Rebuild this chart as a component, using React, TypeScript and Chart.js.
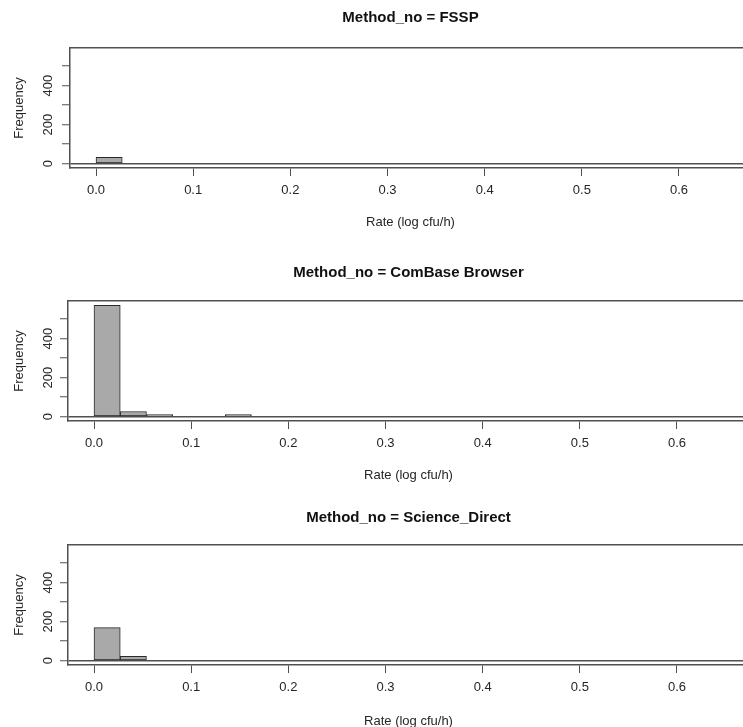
import React, { useEffect, useRef } from 'react';
import { Chart, registerables } from 'chart.js';

Chart.register(...registerables);

// ---- data ----
const PANEL_TITLES = ['Method_no = FSSP', 'Method_no = ComBase Browser', 'Method_no = Science_Direct'];
const BIN_BREAKS = [0, 0.027, 0.054, 0.081, 0.108, 0.135, 0.162];
const FSSP_COUNTS = [32, 0, 0, 0, 0, 0];
const COMBASE_COUNTS = [570, 26, 10, 0, 0, 10];
const SCIENCE_DIRECT_COUNTS = [169, 22, 0, 0, 0, 0];
const X_TICKS = [0, 0.1, 0.2, 0.3, 0.4, 0.5, 0.6];
const X_TICK_LABELS = ['0.0', '0.1', '0.2', '0.3', '0.4', '0.5', '0.6'];
const Y_TICKS = [0, 100, 200, 300, 400, 500];
const Y_TICK_LABELS = ['0', '', '200', '', '400', ''];
const X_TITLE = 'Rate (log cfu/h)';
const Y_TITLE = 'Frequency';

// ---- styling / layout ----
const FAMILY = '"Liberation Sans", Arial, Helvetica, sans-serif';
const TEXT = '#262626';
const TITLE_COLOR = '#111111';
const LINE = '#505050';
const BAR_FILL = '#A9A9A9';
const BAR_EDGE = '#2a2a2a';
const X_MIN = -0.02676;
const X_MAX = 0.6741;
const Y_MIN = -22.8;
const Y_MAX = 592.8;
const CANVAS_W = 751;
const CANVAS_H = 243;

const PANEL_LAYOUT = [
  { top: 0, left: 0, titleY: 18, xTitleY: 222 },
  { top: 253, left: -2, titleY: 20, xTitleY: 222 },
  { top: 497, left: -2, titleY: 21, xTitleY: 224 },
];
const PANEL_COUNTS = [FSSP_COUNTS, COMBASE_COUNTS, SCIENCE_DIRECT_COUNTS];

type Layout = { top: number; left: number; titleY: number; xTitleY: number };

function Panel({ title, counts, layout }: { title: string; counts: number[]; layout: Layout }) {
  const ref = useRef<HTMLCanvasElement>(null);
  useEffect(() => {
    if (!ref.current) return;
    const data = counts.map((c, i) => ({ x: (BIN_BREAKS[i] + BIN_BREAKS[i + 1]) / 2, y: c }));
    const tickFont = { family: FAMILY, size: 13 };
    const chart = new Chart(ref.current, {
      type: 'bar',
      data: {
        datasets: [
          {
            data,
            backgroundColor: BAR_FILL,
            borderColor: BAR_EDGE,
            borderWidth: 1,
            borderSkipped: false,
            barPercentage: 1,
            categoryPercentage: 1,
          } as any,
        ],
      },
      options: {
        responsive: false,
        animation: false,
        devicePixelRatio: 1,
        layout: { padding: 0 },
        plugins: {
          legend: { display: false },
          tooltip: { enabled: false },
          title: {
            display: true,
            text: title,
            fullSize: false,
            color: TITLE_COLOR,
            font: { family: FAMILY, size: 15, weight: 'bold' },
            padding: { top: layout.titleY - 9, bottom: 39 - layout.titleY },
          },
        },
        scales: {
          x: {
            type: 'linear',
            position: 'bottom',
            min: X_MIN,
            max: X_MAX,
            offset: false,
            afterBuildTicks: (s: any) => {
              s.ticks = X_TICKS.map((v) => ({ value: v }));
            },
            afterFit: (s: any) => {
              s.height = CANVAS_H - 168;
            },
            grid: {
              display: true,
              offset: false,
              drawOnChartArea: false,
              drawTicks: true,
              tickLength: 8,
              tickColor: LINE,
              tickWidth: 1,
            },
            border: { display: true, color: LINE, width: 1.5 },
            ticks: {
              padding: 7,
              color: TEXT,
              font: tickFont,
              maxRotation: 0,
              autoSkip: false,
              callback: (v: any) => X_TICK_LABELS[X_TICKS.indexOf(Number(v))] ?? '',
            },
            title: {
              display: true,
              text: X_TITLE,
              color: TEXT,
              font: tickFont,
              padding: { top: 4, bottom: CANVAS_H - layout.xTitleY - 7.8 },
            },
          },
          xTop: {
            type: 'linear',
            position: 'top',
            display: true,
            min: X_MIN,
            max: X_MAX,
            afterFit: (s: any) => {
              s.height = 0;
            },
            grid: { display: false, drawTicks: false },
            ticks: { display: false },
            border: { display: true, color: LINE, width: 1.5 },
          },
          y: {
            type: 'linear',
            position: 'left',
            min: Y_MIN,
            max: Y_MAX,
            afterBuildTicks: (s: any) => {
              s.ticks = Y_TICKS.map((v) => ({ value: v }));
            },
            afterFit: (s: any) => {
              s.width = 70;
            },
            grid: {
              display: true,
              offset: false,
              drawOnChartArea: true,
              drawTicks: true,
              tickLength: 8,
              tickColor: LINE,
              tickWidth: 1,
              lineWidth: 1.5,
              color: (ctx: any) => (ctx.tick && ctx.tick.value === 0 ? LINE : 'rgba(0,0,0,0)'),
            },
            border: { display: true, color: LINE, width: 1.5 },
            ticks: {
              minRotation: 90,
              maxRotation: 90,
              crossAlign: 'center',
              padding: 3 + layout.left,
              autoSkip: false,
              color: TEXT,
              font: tickFont,
              callback: (v: any) => Y_TICK_LABELS[Y_TICKS.indexOf(Number(v))] ?? '',
            },
            title: {
              display: true,
              text: Y_TITLE,
              color: TEXT,
              font: tickFont,
              padding: { top: 12 - layout.left, bottom: 0 },
            },
          },
        },
      } as any,
    });
    return () => chart.destroy();
  }, [title, counts, layout]);

  return (
    <div style={{ position: 'absolute', top: layout.top, left: layout.left, width: CANVAS_W, height: CANVAS_H }}>
      <canvas ref={ref} width={CANVAS_W} height={CANVAS_H} style={{ display: 'block' }} />
    </div>
  );
}

export default function App() {
  return (
    <div
      style={{
        position: 'absolute',
        top: 0,
        left: 0,
        width: 743,
        height: 727,
        overflow: 'hidden',
        background: '#ffffff',
      }}
    >
      {PANEL_TITLES.map((t, i) => (
        <Panel key={t} title={t} counts={PANEL_COUNTS[i]} layout={PANEL_LAYOUT[i]} />
      ))}
    </div>
  );
}
